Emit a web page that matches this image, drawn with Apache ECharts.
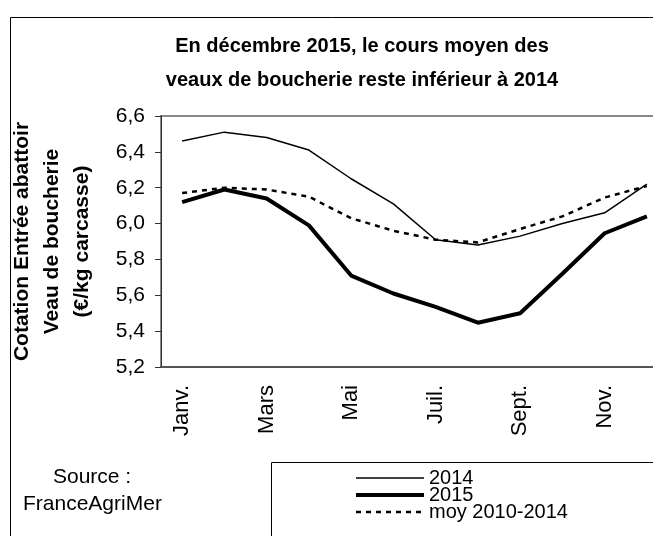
<!DOCTYPE html>
<html>
<head>
<meta charset="utf-8">
<script src="https://cdn.jsdelivr.net/npm/echarts@6/dist/echarts.min.js"></script>
<style>
  html, body { margin: 0; padding: 0; background: #fff; }
  #main { width: 653px; height: 536px; }
</style>
</head>
<body>
<div id="main"></div>
<script>
var months = ['Janv.', 'Févr.', 'Mars', 'Avr.', 'Mai', 'Juin', 'Juil.', 'Août', 'Sept.', 'Oct.', 'Nov.', 'Déc.'];
var y2014 = [6.46, 6.51, 6.48, 6.41, 6.25, 6.11, 5.91, 5.88, 5.93, 6.00, 6.06, 6.22];
var y2015 = [6.12, 6.19, 6.14, 5.99, 5.71, 5.61, 5.535, 5.447, 5.50, 5.72, 5.946, 6.04];
var yMoy = [6.17, 6.20, 6.19, 6.15, 6.03, 5.96, 5.91, 5.895, 5.97, 6.04, 6.145, 6.21];
var yTicks = { min: 5.2, max: 6.6, step: 0.2 };

var font = 'Liberation Sans, Arial, sans-serif';
var chart = echarts.init(document.getElementById('main'));

var line2014 = { color: '#000', width: 1.5 };
var line2015 = { color: '#000', width: 4 };
var lineMoy = { color: '#000', width: 2.5, type: [5, 5] };

var option = {
  animation: false,
  backgroundColor: '#fff',
  title: {
    text: 'En décembre 2015, le cours moyen des\nveaux de boucherie reste inférieur à 2014',
    left: 357,
    textAlign: 'center',
    top: 24,
    textStyle: { fontFamily: font, fontSize: 20, fontWeight: 'bold', color: '#000', lineHeight: 34 }
  },
  legend: {
    orient: 'vertical',
    left: 354,
    top: 468,
    padding: 0,
    height: 80,
    itemWidth: 68,
    itemHeight: 17,
    itemGap: -3,
    itemStyle: { opacity: 0 },
    textStyle: { fontFamily: font, fontSize: 20, color: '#000', lineHeight: 17 },
    data: [
      { name: '2014', lineStyle: line2014 },
      { name: '2015', lineStyle: line2015 },
      { name: 'moy 2010-2014', lineStyle: lineMoy }
    ]
  },
  grid: {
    left: 161, top: 116, width: 507, height: 251,
    outerBoundsMode: 'none',
    show: true, borderColor: '#888', borderWidth: 2
  },
  xAxis: {
    type: 'category',
    data: months,
    boundaryGap: true,
    axisLine: { lineStyle: { color: '#555', width: 2 } },
    axisTick: { interval: 0, length: 6, lineStyle: { color: '#333' } },
    axisLabel: {
      interval: 1, rotate: 90, margin: 18,
      fontFamily: font, fontSize: 22, color: '#000'
    }
  },
  yAxis: {
    type: 'value',
    min: yTicks.min, max: yTicks.max, interval: yTicks.step,
    name: 'Cotation Entrée abattoir\nVeau de boucherie\n(€/kg carcasse)',
    nameLocation: 'middle',
    nameGap: 64,
    nameTextStyle: { fontFamily: font, fontSize: 21, fontWeight: 'bold', color: '#000', lineHeight: 30 },
    axisLine: { show: true, lineStyle: { color: '#333', width: 1 } },
    axisTick: { show: true, length: 6, lineStyle: { color: '#333' } },
    splitLine: { show: false },
    axisLabel: {
      margin: 16, fontFamily: font, fontSize: 21, color: '#000',
      formatter: function (v) { return v.toFixed(1).replace('.', ','); }
    }
  },
  graphic: [
    { type: 'rect', left: 8, top: 15, shape: { width: 700, height: 600 },
      style: { fill: 'none', stroke: '#000', lineWidth: 1 }, silent: true, z: -1 },
    { type: 'rect', left: 269, top: 460, shape: { width: 500, height: 100 },
      style: { fill: 'none', stroke: '#000', lineWidth: 1 }, silent: true },
    { type: 'text', left: 53, top: 467,
      style: { text: 'Source :', font: '21px ' + font, fill: '#000' } },
    { type: 'text', left: 23, top: 494,
      style: { text: 'FranceAgriMer', font: '21px ' + font, fill: '#000' } }
  ],
  series: [
    { name: '2014', type: 'line', data: y2014, symbol: 'none',
      lineStyle: line2014, itemStyle: { color: '#000' } },
    { name: '2015', type: 'line', data: y2015, symbol: 'none',
      lineStyle: line2015, itemStyle: { color: '#000' } },
    { name: 'moy 2010-2014', type: 'line', data: yMoy, symbol: 'none',
      lineStyle: lineMoy, itemStyle: { color: '#000' } }
  ]
};

chart.setOption(option);
</script>
</body>
</html>
